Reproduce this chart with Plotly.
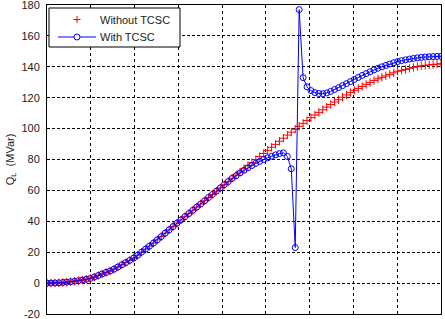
import numpy as np
import plotly.graph_objects as go

# sample grid (101 points across the 9 grid intervals)
x_vals = [round(0.09 * i, 2) for i in range(101)]

without_tcsc = [
    0.0, 0.0, 0.1, 0.2, 0.4, 0.6, 0.9, 1.2, 1.6, 2.0,
    2.5, 3.0, 3.9, 4.9, 5.9, 6.9, 7.8, 9.0, 10.4, 11.9,
    13.3, 14.7, 16.2, 18.0, 20.0, 22.0, 23.9, 25.9, 28.0, 30.1,
    32.3, 34.5, 36.6, 38.8, 40.9, 43.0, 45.0, 47.1, 49.2, 51.2,
    53.3, 55.4, 57.4, 59.5, 61.6, 63.7, 65.7, 67.8, 69.9, 71.9,
    74.0, 76.0, 78.0, 79.9, 81.9, 83.9, 85.9, 87.9, 89.8, 91.8,
    93.8, 95.8, 97.7, 99.6, 101.5, 103.4, 105.2, 107.1, 108.8, 110.5,
    112.2, 113.9, 115.6, 117.2, 118.7, 120.3, 121.8, 123.3, 124.8, 126.0,
    127.3, 128.6, 129.8, 131.1, 132.2, 133.2, 134.1, 135.1, 136.1, 137.1,
    137.7, 138.3, 139.0, 139.6, 140.2, 140.7, 140.9, 141.2, 141.5, 141.7,
    142.0,
]

with_tcsc = [
    0.0, 0.0, 0.1, 0.2, 0.4, 0.6, 0.9, 1.2, 1.6, 2.0,
    2.5, 3.0, 3.9, 4.9, 5.9, 6.9, 7.8, 9.0, 10.4, 11.9,
    13.3, 14.7, 16.2, 18.0, 20.0, 22.0, 23.9, 25.9, 28.0, 30.1,
    32.3, 34.5, 36.6, 38.8, 40.9, 43.0, 45.0, 47.1, 49.2, 51.2,
    53.3, 55.4, 57.4, 59.5, 61.6, 63.7, 65.7, 67.8, 69.5, 71.3,
    73.0, 74.6, 76.1, 77.5, 78.8, 80.0, 81.1, 82.1, 83.0, 83.8,
    84.3, 82.0, 74.0, 23.0, 177.0, 133.0, 127.0, 124.6, 123.3, 122.7,
    122.6, 123.1, 124.1, 125.3, 126.5, 127.8, 129.1, 130.4, 131.8, 133.1,
    134.4, 135.6, 136.8, 138.0, 139.1, 140.0, 140.9, 141.8, 142.6, 143.4,
    144.0, 144.5, 145.0, 145.4, 145.8, 146.1, 146.3, 146.5, 146.6, 146.7,
    146.8,
]

y_ticks = [-20, 0, 20, 40, 60, 80, 100, 120, 140, 160, 180]
legend_labels = ["Without TCSC", "With TCSC"]

W, H = 445, 319
ML, MR, MT, MB = 47, 4, 5, 5
PW, PH = W - ML - MR, H - MT - MB


def px(X):
    return (X - ML) / PW


def py(Y):
    return (H - MB - Y) / PH


fig = go.Figure()
fig.add_trace(go.Scatter(
    x=x_vals, y=without_tcsc, mode="markers", name=legend_labels[0],
    marker=dict(symbol="cross-thin", size=6, color="red",
                line=dict(color="red", width=1)),
))
fig.add_trace(go.Scatter(
    x=x_vals, y=with_tcsc, mode="lines+markers", name=legend_labels[1],
    line=dict(color="blue", width=1),
    marker=dict(symbol="circle-open", size=6, color="blue",
                line=dict(color="blue", width=1)),
))

# compact MATLAB-style legend box
shapes = [
    dict(type="rect", xref="paper", yref="paper", layer="above",
         x0=px(49), x1=px(180), y0=py(47), y1=py(8),
         fillcolor="white", line=dict(color="black", width=1)),
    # red plus
    dict(type="line", xref="paper", yref="paper", layer="above",
         x0=px(73.5), x1=px(80.5), y0=py(19.5), y1=py(19.5),
         line=dict(color="red", width=1)),
    dict(type="line", xref="paper", yref="paper", layer="above",
         x0=px(77), x1=px(77), y0=py(16), y1=py(23),
         line=dict(color="red", width=1)),
    # blue line with circle
    dict(type="line", xref="paper", yref="paper", layer="above",
         x0=px(58), x1=px(96), y0=py(37), y1=py(37),
         line=dict(color="blue", width=1)),
    dict(type="circle", xref="paper", yref="paper", layer="above",
         x0=px(74), x1=px(80), y0=py(40), y1=py(34),
         fillcolor="white", line=dict(color="blue", width=1)),
]
annotations = [
    dict(xref="paper", yref="paper", x=px(98), y=py(19.5), text=legend_labels[0],
         showarrow=False, xanchor="left", yanchor="middle",
         font=dict(size=11, color="#222")),
    dict(xref="paper", yref="paper", x=px(98), y=py(37), text=legend_labels[1],
         showarrow=False, xanchor="left", yanchor="middle",
         font=dict(size=11, color="#222")),
]

fig.update_layout(
    width=W, height=H,
    margin=dict(l=ML, r=MR, t=MT, b=MB, autoexpand=False),
    paper_bgcolor="white", plot_bgcolor="white",
    font=dict(family="Arial, Liberation Sans, sans-serif", size=11, color="#222"),
    showlegend=False,
    shapes=shapes,
    annotations=annotations,
    xaxis=dict(
        range=[0, 9], dtick=1, tick0=0, showticklabels=False,
        showgrid=True, gridcolor="black", griddash="dot", gridwidth=1,
        showline=True, linecolor="black", linewidth=1, mirror=True,
        zeroline=False, ticks="", automargin=False,
    ),
    yaxis=dict(
        range=[-20, 180], tickvals=y_ticks, ticktext=[str(v) for v in y_ticks],
        showgrid=True, gridcolor="black", griddash="3px,2px", gridwidth=1,
        showline=True, linecolor="black", linewidth=1, mirror=True,
        zeroline=False, ticks="", ticklabelstandoff=4,
        ticklabeloverflow="allow", automargin=False,
        title=dict(text="Q<sub>L</sub>  (MVar)", font=dict(size=11), standoff=4),
    ),
)

fig.write_html("out.html", config={"displayModeBar": False})

# remove the browser's default page margin so the figure sits at (0, 0)
with open("out.html", "r", encoding="utf-8") as f:
    html = f.read()
html = html.replace("<head>", "<head><style>html,body{margin:0;padding:0;overflow:hidden}</style>", 1)
with open("out.html", "w", encoding="utf-8") as f:
    f.write(html)
